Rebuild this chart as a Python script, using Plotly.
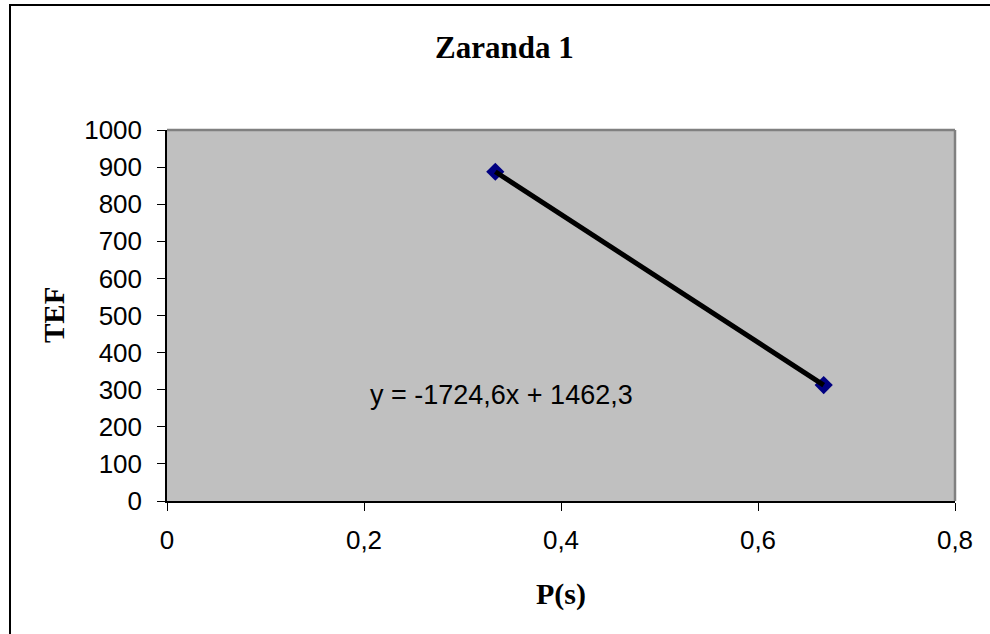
import plotly.graph_objects as go

# Data
p_s = [0.3333, 0.6667]
tef = [887.4, 312.6]
equation = "y = -1724,6x + 1462,3"
x_tickvals = [0, 0.2, 0.4, 0.6, 0.8]
x_ticktext = ["0", "0,2", "0,4", "0,6", "0,8"]
y_ticks = [0, 100, 200, 300, 400, 500, 600, 700, 800, 900, 1000]

L, R, T, B = 167, 955, 130, 501
W, H = 990, 634
pw, ph = R - L, B - T

def px(x):
    return (x - L) / pw

def py(y):
    return (B - y) / ph

fig = go.Figure()
fig.add_trace(go.Scatter(
    x=p_s, y=tef, mode="markers",
    marker=dict(symbol="diamond", size=14, color="#000080",
                line=dict(width=0)),
    showlegend=False, hoverinfo="skip"))
fig.add_trace(go.Scatter(
    x=p_s, y=tef, mode="lines",
    line=dict(color="black", width=5),
    showlegend=False, hoverinfo="skip"))

fig.update_layout(
    width=W, height=H,
    margin=dict(l=L, r=W - R, t=T, b=H - B),
    paper_bgcolor="white",
    plot_bgcolor="#C0C0C0",
    showlegend=False,
    font=dict(family="Liberation Sans, Arial", size=26, color="black"),
    xaxis=dict(range=[0, 0.8], tickvals=x_tickvals, ticktext=x_ticktext,
               showgrid=False, zeroline=False,
               showline=True, linecolor="black", linewidth=1.5,
               ticks="outside", ticklen=8, tickcolor="black", tickwidth=1,
               ticklabelstandoff=7,
               tickfont=dict(family="Liberation Sans, Arial", size=26),
               title=None),
    yaxis=dict(range=[0, 1000], tickvals=y_ticks,
               ticktext=[str(v) for v in y_ticks],
               showgrid=False, zeroline=False,
               showline=True, linecolor="black", linewidth=1.5,
               ticks="outside", ticklen=8, tickcolor="black", tickwidth=1,
               ticklabelstandoff=10,
               tickfont=dict(family="Liberation Sans, Arial", size=26),
               title=None),
)

shapes = [
    # outer chart border
    dict(type="rect", xref="paper", yref="paper",
         x0=px(10), x1=px(1000), y0=py(640), y1=py(5),
         line=dict(color="black", width=2), layer="below"),
    # plot area top and right border (gray)
    dict(type="line", xref="paper", yref="paper",
         x0=0, x1=1, y0=1, y1=1, line=dict(color="#808080", width=2.5)),
    dict(type="line", xref="paper", yref="paper",
         x0=1, x1=1, y0=0, y1=1, line=dict(color="#808080", width=2.5)),
]
fig.update_layout(shapes=shapes)

annotations = [
    dict(text="<b>Zaranda 1</b>", xref="paper", yref="paper",
         x=px(504), y=py(47), showarrow=False,
         xanchor="center", yanchor="middle",
         font=dict(family="Liberation Serif, Times New Roman", size=31)),
    dict(text="<b>TEF</b>", xref="paper", yref="paper",
         x=px(54), y=py(315), showarrow=False, textangle=-90,
         xanchor="center", yanchor="middle",
         font=dict(family="Liberation Serif, Times New Roman", size=29)),
    dict(text="<b>P(s)</b>", xref="paper", yref="paper",
         x=px(561), y=py(594), showarrow=False,
         xanchor="center", yanchor="middle",
         font=dict(family="Liberation Serif, Times New Roman", size=30)),
    dict(text=equation, xref="x", yref="y",
         x=0.340, y=287, showarrow=False,
         xanchor="center", yanchor="middle",
         font=dict(family="Liberation Sans, Arial", size=27)),
]
fig.update_layout(annotations=annotations)

fig.write_html("out.html",
               config={"displayModeBar": False},
               post_script="document.body.style.margin='0';")
